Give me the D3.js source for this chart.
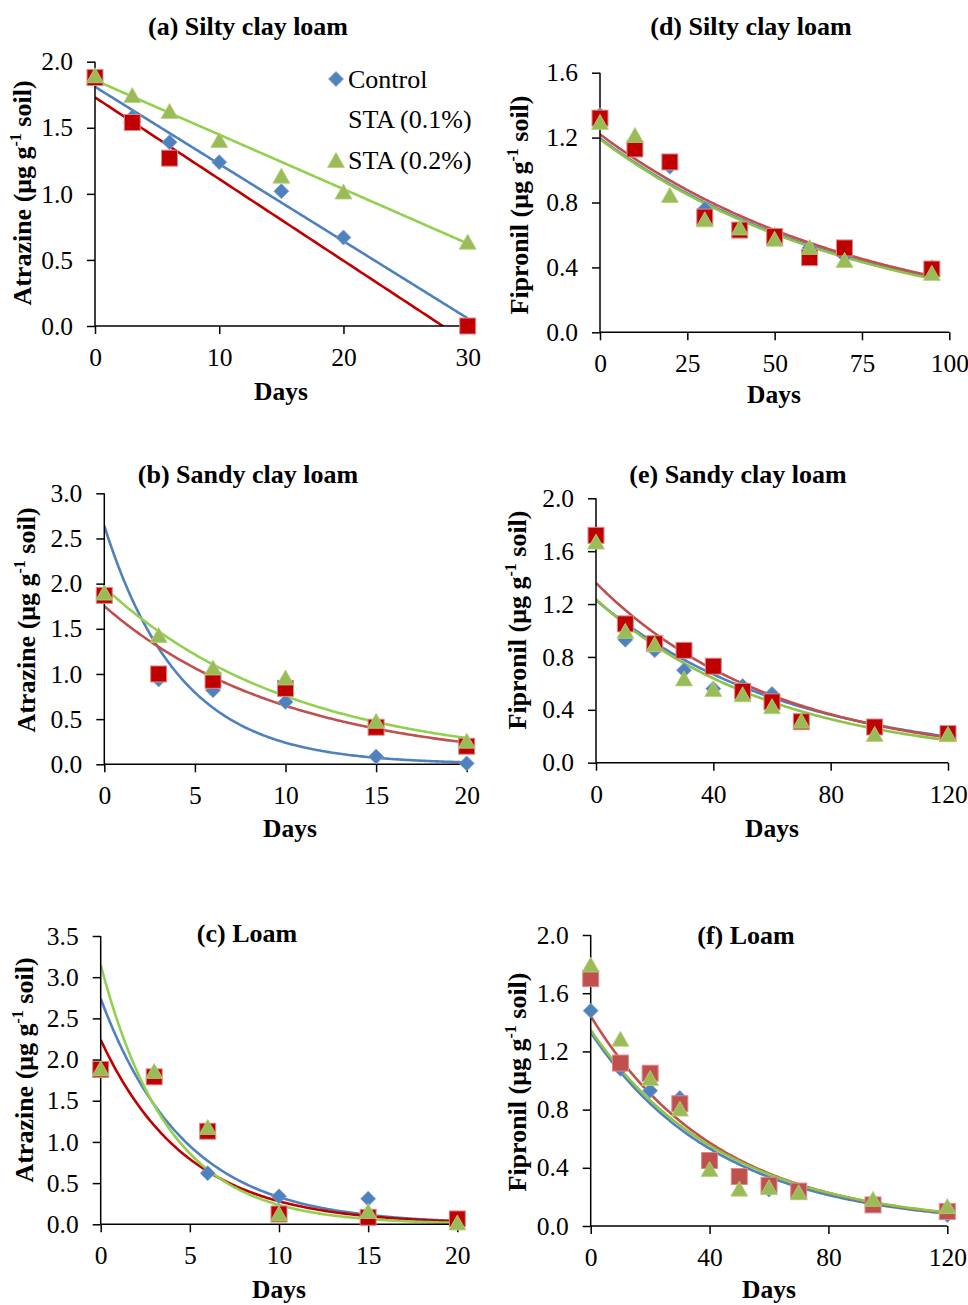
<!DOCTYPE html>
<html>
<head>
<meta charset="utf-8">
<script src="https://cdn.jsdelivr.net/npm/d3@7"></script>
<style>
  body { margin: 0; background: #fff; }
  svg text { font-family: "Liberation Serif", "Times New Roman", serif; fill: #000; }
</style>
</head>
<body>
<svg id="chart" width="968" height="1305"></svg>
<script>
// series names
const seriesNames = ["Control", "STA (0.1%)", "STA (0.2%)"];

// (a) atrazine, silty clay loam
const daysA = [0, 3, 6, 10, 15, 20, 30];
const ctrlA = [1.88, 1.58, 1.39, 1.24, 1.02, 0.67, 0.0];
const sta1A = [1.88, 1.54, 1.27, null, null, null, 0.0];
const sta2A = [1.89, 1.74, 1.62, 1.40, 1.13, 1.01, 0.63];
const fitA0 = [1.81, 1.73, 1.86];        // linear intercepts
const fitAk = [-0.0584, -0.0618, -0.0412]; // linear slopes

// (b) atrazine, sandy clay loam
const daysB = [0, 3, 6, 10, 15, 20];
const ctrlB = [1.88, 0.94, 0.82, 0.69, 0.085, 0.01];
const sta1B = [1.87, 1.00, 0.93, 0.84, 0.41, 0.20];
const sta2B = [1.89, 1.42, 1.06, 0.95, 0.47, 0.25];
const fitB0 = [2.64, 1.75, 1.96];
const fitBk = [0.24, 0.0993, 0.0955];

// (c) atrazine, loam
const daysC = [0, 3, 6, 10, 15, 20];
const ctrlC = [1.88, 1.80, 0.62, 0.34, 0.31, 0.05];
const sta1C = [1.88, 1.79, 1.13, 0.125, 0.085, 0.065];
const sta2C = [1.88, 1.85, 1.17, 0.12, 0.15, 0.01];
const fitC0 = [2.74, 2.24, 3.15];
const fitCk = [0.2116, 0.208, 0.2596];

// (d) fipronil, silty clay loam
const daysD = [0, 10, 20, 30, 40, 50, 60, 70, 95];
const ctrlD = [1.34, 1.13, 1.02, 0.76, 0.64, 0.60, 0.52, 0.47, 0.40];
const sta1D = [1.32, 1.13, 1.05, 0.71, 0.63, 0.59, 0.46, 0.52, 0.39];
const sta2D = [1.29, 1.21, 0.84, 0.69, 0.64, 0.57, 0.52, 0.44, 0.36];
const fitD0 = [1.195, 1.22, 1.19];
const fitDk = [0.01338, 0.01323, 0.01349];

// (e) fipronil, sandy clay loam
const daysE = [0, 10, 20, 30, 40, 50, 60, 70, 95, 120];
const ctrlE = [1.72, 0.93, 0.85, 0.70, 0.56, 0.58, 0.52, 0.32, 0.25, 0.22];
const sta1E = [1.72, 1.05, 0.90, 0.85, 0.73, 0.54, 0.46, 0.31, 0.27, 0.22];
const sta2E = [1.665, 0.99, 0.89, 0.63, 0.55, 0.51, 0.42, 0.31, 0.21, 0.21];
const fitE0 = [1.23, 1.36, 1.236];
const fitEk = [0.01526, 0.0164, 0.01653];

// (f) fipronil, loam
const daysF = [0, 10, 20, 30, 40, 50, 60, 70, 95, 120];
const ctrlF = [1.48, 1.08, 0.93, 0.88, 0.42, 0.33, 0.25, 0.23, 0.15, 0.075];
const sta1F = [1.70, 1.12, 1.05, 0.84, 0.45, 0.34, 0.28, 0.24, 0.145, 0.10];
const sta2F = [1.79, 1.28, 1.01, 0.80, 0.385, 0.25, 0.26, 0.225, 0.18, 0.13];
const fitF0 = [1.33, 1.443, 1.347];
const fitFk = [0.0229, 0.0231, 0.0222];

// tick values
const ticksXA = [0, 10, 20, 30], ticksYA = [0, 0.5, 1.0, 1.5, 2.0];
const ticksXB = [0, 5, 10, 15, 20], ticksYB = [0, 0.5, 1.0, 1.5, 2.0, 2.5, 3.0];
const ticksXC = [0, 5, 10, 15, 20], ticksYC = [0, 0.5, 1.0, 1.5, 2.0, 2.5, 3.0, 3.5];
const ticksXD = [0, 25, 50, 75, 100], ticksYD = [0, 0.4, 0.8, 1.2, 1.6];
const ticksXE = [0, 40, 80, 120], ticksYE = [0, 0.4, 0.8, 1.2, 1.6, 2.0];
const ticksXF = [0, 40, 80, 120], ticksYF = [0, 0.4, 0.8, 1.2, 1.6, 2.0];

const svg = d3.select("#chart");

const panels = [
  { title: "(a) Silty clay loam", ylab: "Atrazine", days: daysA, ys: [ctrlA, sta1A, sta2A],
    fit0: fitA0, fitk: fitAk, model: "linear", xmax: 30, ymax: 2.0, tx: ticksXA, ty: ticksYA,
    box: [95, 467.7, 61.7, 326], titleXY: [248, 35], daysXY: [281, 400], ylabXY: [31, 193],
    redLine: "#C00000", redFill: "#C00000", legend: true },
  { title: "(d) Silty clay loam", ylab: "Fipronil", days: daysD, ys: [ctrlD, sta1D, sta2D],
    fit0: fitD0, fitk: fitDk, model: "exp", xmax: 100, ymax: 1.6, tx: ticksXD, ty: ticksYD,
    box: [600, 949.3, 72.7, 332.3], titleXY: [751, 35], daysXY: [774, 403], ylabXY: [528, 205],
    redLine: "#C0504D", redFill: "#C00000" },
  { title: "(b) Sandy clay loam", ylab: "Atrazine", days: daysB, ys: [ctrlB, sta1B, sta2B],
    fit0: fitB0, fitk: fitBk, model: "exp", xmax: 20, ymax: 3.0, tx: ticksXB, ty: ticksYB,
    box: [104.3, 466.7, 493.3, 764.3], titleXY: [248, 483], daysXY: [290, 837], ylabXY: [35, 620],
    redLine: "#C0504D", redFill: "#C00000" },
  { title: "(e) Sandy clay loam", ylab: "Fipronil", days: daysE, ys: [ctrlE, sta1E, sta2E],
    fit0: fitE0, fitk: fitEk, model: "exp", xmax: 120, ymax: 2.0, tx: ticksXE, ty: ticksYE,
    box: [596, 948, 498.3, 762.7], titleXY: [738, 483], daysXY: [772, 837], ylabXY: [526, 620],
    redLine: "#C0504D", redFill: "#C00000" },
  { title: "(c) Loam", ylab: "Atrazine", days: daysC, ys: [ctrlC, sta1C, sta2C],
    fit0: fitC0, fitk: fitCk, model: "exp", xmax: 20, ymax: 3.5, tx: ticksXC, ty: ticksYC,
    box: [100.7, 457.3, 936, 1224.3], titleXY: [247, 942], daysXY: [279, 1298], ylabXY: [33, 1070],
    redLine: "#C00000", redFill: "#C00000" },
  { title: "(f) Loam", ylab: "Fipronil", days: daysF, ys: [ctrlF, sta1F, sta2F],
    fit0: fitF0, fitk: fitFk, model: "exp", xmax: 120, ymax: 2.0, tx: ticksXF, ty: ticksYF,
    box: [590.7, 947.3, 935, 1226], titleXY: [746, 944], daysXY: [769, 1298], ylabXY: [526, 1082],
    redLine: "#C0504D", redFill: "#C0504D" }
];

const blue = "#4F81BD", green = "#9BBB59", greenLine = "#92D050";

function marker(g, kind, x, y, fill) {
  if (kind === 0) {
    const r = 7.5;
    g.append("path").attr("d", `M${x},${y - r}L${x + r},${y}L${x},${y + r}L${x - r},${y}Z`)
      .attr("fill", blue).attr("stroke", "#7FA3D3").attr("stroke-width", 0.8);
  } else if (kind === 1) {
    g.append("rect").attr("x", x - 8).attr("y", y - 8).attr("width", 16).attr("height", 16)
      .attr("fill", fill).attr("stroke", "#D98A8A").attr("stroke-width", 1);
  } else {
    g.append("path").attr("d", `M${x},${y - 8.5}L${x + 8.5},${y + 6.5}L${x - 8.5},${y + 6.5}Z`)
      .attr("fill", green).attr("stroke", "#B3D07A").attr("stroke-width", 0.8);
  }
}

panels.forEach((p, i) => {
  const [L, R, T, B] = p.box;
  const x = d3.scaleLinear().domain([0, p.xmax]).range([L, R]);
  const y = d3.scaleLinear().domain([0, p.ymax]).range([B, T]);
  const g = svg.append("g");

  // clip for trend lines
  const clipId = "clip" + i;
  svg.append("clipPath").attr("id", clipId).append("rect")
    .attr("x", L).attr("y", T).attr("width", R - L + 20).attr("height", B - T);

  // trend lines
  const lastDay = p.days[p.days.length - 1];
  const ts = d3.range(0, lastDay + 0.001, lastDay / 200);
  const lineColors = [blue, p.redLine, p.model === "linear" || i === 2 || i === 4 ? greenLine : "#8DC448"];
  p.fit0.forEach((c0, s) => {
    const f = p.model === "linear" ? (t => c0 + p.fitk[s] * t) : (t => c0 * Math.exp(-p.fitk[s] * t));
    g.append("path")
      .datum(ts)
      .attr("clip-path", `url(#${clipId})`)
      .attr("fill", "none")
      .attr("stroke", lineColors[s])
      .attr("stroke-width", 2.6)
      .attr("d", d3.line().x(t => x(t)).y(t => y(f(t))));
  });

  // axes
  const xAxis = d3.axisBottom(x).tickValues(p.tx).tickSize(8).tickPadding(14).tickFormat(d3.format("d"));
  const yAxis = d3.axisLeft(y).tickValues(p.ty).tickSize(8).tickPadding(14).tickFormat(d3.format(".1f"));
  const gx = g.append("g").attr("transform", `translate(0,${B})`).call(xAxis);
  const gy = g.append("g").attr("transform", `translate(${L},0)`).call(yAxis);
  [gx, gy].forEach(a => {
    a.select(".domain").attr("stroke", "#000").attr("stroke-width", 1.5);
    a.selectAll(".tick line").attr("stroke", "#000").attr("stroke-width", 1.5);
    a.selectAll("text").style("font-family", '"Liberation Serif", serif').style("font-size", "25.5px").attr("fill", "#000");
  });
  // x-axis line across the full plot width
  gx.select(".domain").attr("d", `M${L},0H${R}`);
  gy.select(".domain").attr("d", `M0,${T}V${B}`);

  // markers
  p.ys.forEach((vals, s) => {
    p.days.forEach((d, k) => {
      if (vals[k] === null) return;
      marker(g, s, x(d), y(vals[k]), p.redFill);
    });
  });

  // titles
  g.append("text").attr("x", p.titleXY[0]).attr("y", p.titleXY[1]).attr("text-anchor", "middle")
    .style("font-size", "26px").style("font-weight", "bold").text(p.title);
  g.append("text").attr("x", p.daysXY[0]).attr("y", p.daysXY[1]).attr("text-anchor", "middle")
    .style("font-size", "25.5px").style("font-weight", "bold").text("Days");
  const yl = g.append("text")
    .attr("transform", `translate(${p.ylabXY[0]},${p.ylabXY[1]}) rotate(-90)`)
    .attr("text-anchor", "middle").style("font-size", "26px").style("font-weight", "bold");
  yl.append("tspan").text(p.ylab + " (μg g");
  yl.append("tspan").attr("dy", -10).style("font-size", "16px").text("-1");
  yl.append("tspan").attr("dy", 10).text(" soil)");

  // legend
  if (p.legend) {
    const lx = 348, ly = [79, 119, 160];
    seriesNames.forEach((n, s) => {
      if (s !== 1) marker(g, s, 336, ly[s] + (s === 2 ? 1 : 0), p.redFill);
      g.append("text").attr("x", lx).attr("y", ly[s] + 9).style("font-size", "26px").text(n);
    });
  }
});
</script>
</body>
</html>
